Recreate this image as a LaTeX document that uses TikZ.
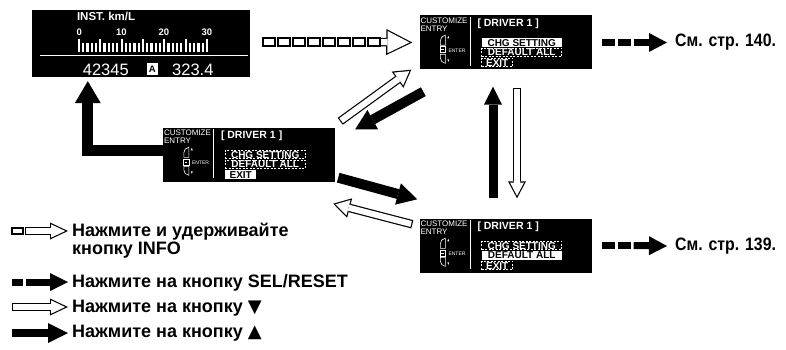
\documentclass[tikz,border=0pt]{standalone}
\usepackage{fontspec}
\setmainfont{Liberation Sans}
\newfontfamily\narrowfont[FakeStretch=0.88]{Liberation Sans}
\newfontfamily\symfont{DejaVu Sans}
\usetikzlibrary{arrows.meta}

% hollow block arrow: shaft, tip length, tip width, from, to
\newcommand\openarr[5]{%
  \pgfmathsetmacro\oain{1.2/sin(atan(#3/(2*#2)))}%
  \pgfmathsetmacro\oalen{#2-1.2-\oain}%
  \pgfmathsetmacro\oawid{\oalen*#3/#2}%
  \pgfmathsetmacro\oash{#1-2.4}%
  \draw[line width=#1pt,-{Triangle[length=#2pt,width=#3pt,line width=0pt]}] (#4) -- (#5);
  \draw[white,line width=\oash pt,shorten >=\oain pt,shorten <=1.2pt,
    -{Triangle[length=\oalen pt,width=\oawid pt,line width=0pt]}] (#4) -- (#5);
}

\begin{document}
\begin{tikzpicture}[x=1pt,y=-1pt,
  screen/.style={fill=black,minimum width=172pt,minimum height=54pt,inner sep=0pt},
  scrtxt/.style={white,inner sep=0pt,anchor=west},
  tiny/.style={font=\fontsize{8}{8}\selectfont},
  row/.style={inner sep=0pt,anchor=west,minimum height=8.5pt,line width=0.8pt,
    dash pattern=on 2pt off 1.5pt,font=\fontsize{10}{10}\selectfont\bfseries},
  ref/.style={font=\fontsize{18}{18}\selectfont\bfseries,inner sep=0pt,anchor=west},
  blkarr/.style n args={3}{line width=#1,-{Triangle[length=#2,width=#3,line width=0pt]}}]

\useasboundingbox (0,0) rectangle (786,350);

% screens
\node[screen,minimum width=218pt,minimum height=67pt] (sinfo) at (141,43.5) {};
\node[screen] (s1) at (505.5,42.5) {};
\node[screen] (s2) at (249,154.5) {};
\node[screen] (s3) at (505.5,245.5) {};

% INST. km/L display
\begin{scope}[shift={(sinfo.north west)}]
\node[scrtxt,font=\fontsize{11.5}{11.5}\selectfont\bfseries] at (45,7) {INST. km/L};
\foreach \v/\lab in {47.5/0,89.5/10,132/20,175/30}
  \node[white,inner sep=0pt,font=\fontsize{9.5}{9.5}\selectfont\bfseries] at (\v,22) {\lab};
\foreach \v in {0,...,30}{
  \pgfmathtruncatemacro\bm{mod(\v,5)}
  \ifnum\bm=0 \def\bt{29}\else\def\bt{33}\fi
  \fill[white] (46+4.27*\v,\bt) rectangle (48.2+4.27*\v,42);
}
\draw[white,line width=0.8pt] (8,45.5) -- (216,45.5);
\node[white,inner sep=0pt,font=\fontsize{16.5}{16.5}\selectfont] at (74,60) {42345};
\fill[white] (115,53) rectangle (126,65);
\node[inner sep=0pt,font=\fontsize{9.5}{9.5}\selectfont\bfseries] at (120.5,59) {A};
\node[white,inner sep=0pt,font=\fontsize{16.5}{16.5}\selectfont] at (161,60) {323.4};
\end{scope}

% CUSTOMIZE ENTRY screens
\foreach \s/\h in {s1/1,s2/3,s3/2}{
\begin{scope}[shift={(\s.north west)}]
\node[scrtxt,tiny] at (1,5.5) {CUSTOMIZE};
\node[scrtxt,tiny] at (1,13) {ENTRY};
\draw[white,line width=0.7pt] (51,2) -- (51,51);
\node[scrtxt,font=\fontsize{10.5}{10.5}\selectfont\bfseries] at (58,8) {[ DRIVER 1 ]};
% key
\draw[white,line width=0.6pt] (26,30) -- (26,20) .. controls (23,20.5) and (21,22.5) .. (21,25.5) -- (21,30) -- cycle;
\draw[white,line width=0.6pt] (20.5,31.5) rectangle (26,37.5);
\draw[white,line width=0.6pt] (22,34.5) -- (24.5,34.5);
\draw[white,line width=0.6pt] (26,39) -- (26,48) .. controls (23,47.5) and (21,45.5) .. (21,42.5) -- (21,39) -- cycle;
\fill[white] (28,23) -- (30,23) -- (29,20.5) -- cycle;
\fill[white] (28,44) -- (30,44) -- (29,46.5) -- cycle;
\node[scrtxt,font=\fontsize{5}{5}\selectfont] at (29,35) {ENTER};
% menu
\foreach \t/\w [count=\i] in {CHG SETTING/80,DEFAULT ALL/80,EXIT/31}{
  \ifnum\i=\h \def\rf{white}\def\rt{black}\def\rd{none}\else\def\rf{none}\def\rt{white}\def\rd{white}\fi
  \node[row,minimum width=\w pt,fill=\rf,text=\rt,draw=\rd] at (62,17.3+10*\i) {\t};
}
\end{scope}
}

% page references
\node[ref,font=\fontsize{18}{18}\selectfont\narrowfont\bfseries] (p140) at (675,42.5) {См. стр. 140.};
\node[ref,font=\fontsize{18}{18}\selectfont\narrowfont\bfseries] (p139) at (675,246) {См. стр. 139.};

% hold INFO
\foreach \k in {0,...,7}
  \draw[line width=1.2pt] (263+15*\k,38) rectangle ++(12,8);
\openarr{8.5}{26}{26}{380,42}{[xshift=-7pt]s1.west}

% SEL/RESET
\foreach \s/\p in {s1/p140,s3/p139}{
  \fill ([xshift=10pt,yshift=3.5pt]\s.east) rectangle ++(13,7);
  \fill ([xshift=26pt,yshift=3.5pt]\s.east) rectangle ++(13,7);
  \draw[blkarr={7pt}{18pt}{19pt}] ([xshift=42pt]\s.east) -- ([xshift=-8pt]\p.west);
}

% back to display
\coordinate (lup) at ([xshift=56pt,yshift=-4pt]sinfo.south west);
\draw[blkarr={11pt}{22pt}{26pt}] ([yshift=4.5pt]s2.west) -| (lup);

% up / down
\openarr{8.5}{17}{20}{[xshift=5pt,yshift=6pt]s2.north east}{[xshift=-8pt]s1.south west}
\draw[blkarr={10pt}{20pt}{22pt}] ([xshift=4pt,yshift=-22pt]s1.south west) -- ([xshift=20pt,yshift=-2pt]s2.north east);
\draw[blkarr={10pt}{20pt}{22pt}] ([xshift=3pt,yshift=4pt]s2.south east) -- ([xshift=-2pt,yshift=19pt]s3.north west);
\openarr{8.5}{17}{20}{[xshift=-7pt,yshift=-6pt]s3.north west}{[xshift=-2pt,yshift=-22pt]s2.south east}
\draw[blkarr={9pt}{18pt}{18pt}] ([xshift=-12.5pt,yshift=20pt]s3.north) -- ([xshift=-12.5pt,yshift=-17pt]s1.south);
\openarr{8.5}{17}{18}{[xshift=11.5pt,yshift=-18pt]s1.south}{[xshift=11.5pt,yshift=20pt]s3.north}

% legend
\draw[line width=1.2pt] (12,228) rectangle (23,234);
\openarr{7.5}{18}{17}{25,231}{68,231}
\node[ref,align=left] (leg1) at (72,241) {Нажмите и удерживайте\\кнопку INFO};
\fill (12,278.5) rectangle (23,285.5);
\draw[blkarr={7pt}{18pt}{18pt}] (26,282) -- (68,282);
\node[ref] (leg2) at (72,283) {Нажмите на кнопку SEL/RESET};
\openarr{7.5}{18}{17}{12,307}{68,307}
\node[ref] (leg3) at (72,308) {Нажмите на кнопку {\symfont ▼}};
\draw[blkarr={8pt}{20pt}{20pt}] (12,333) -- (68,333);
\node[ref] (leg4) at (72,333) {Нажмите на кнопку {\symfont ▲}};
\end{tikzpicture}
\end{document}
